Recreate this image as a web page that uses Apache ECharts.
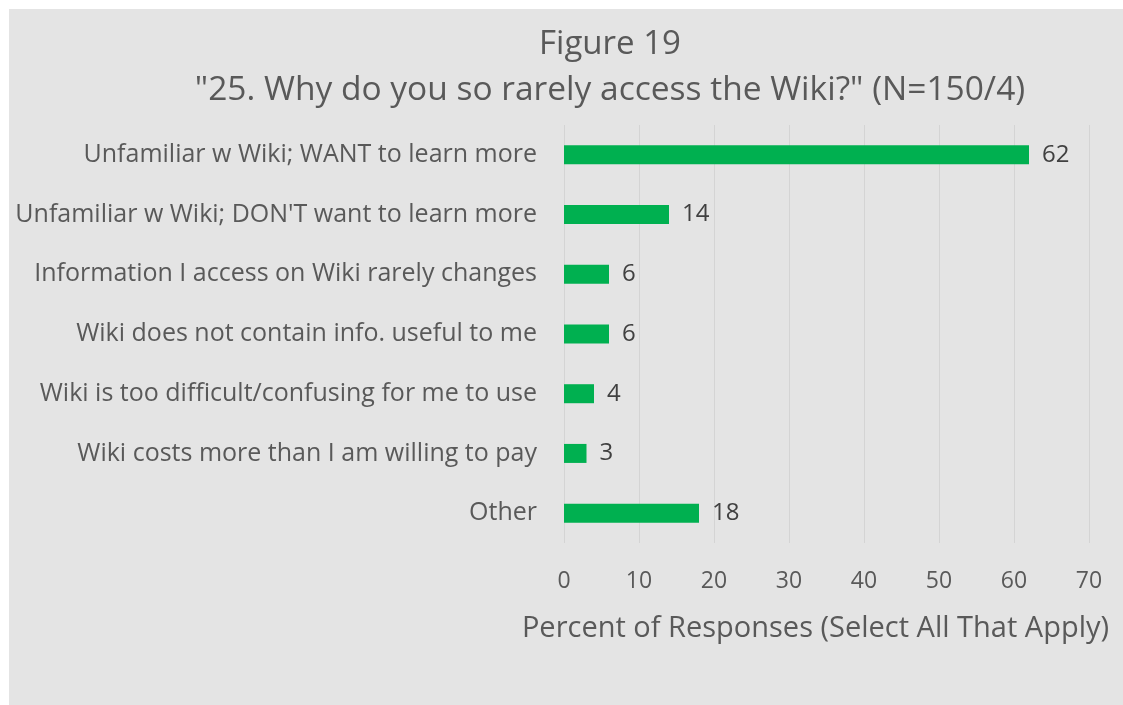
<!DOCTYPE html>
<html>
<head>
<meta charset="utf-8">
<script src="https://cdn.jsdelivr.net/npm/echarts@6/dist/echarts.min.js"></script>
<style>
  html, body { margin: 0; padding: 0; background: #ffffff; }
  #chart { position: absolute; left: 9px; top: 9px; width: 1114px; height: 696px; }
</style>
</head>
<body>
<div id="chart"></div>
<script>
const categories = [
  "Unfamiliar w Wiki; WANT to learn more",
  "Unfamiliar w Wiki; DON'T want to learn more",
  "Information I access on Wiki rarely changes",
  "Wiki does not contain info. useful to me",
  "Wiki is too difficult/confusing for me to use",
  "Wiki costs more than I am willing to pay",
  "Other"
];
const percents = [62, 14, 6, 6, 4, 3, 18];
const titleLines = ["Figure 19", "\"25. Why do you so rarely access the Wiki?\" (N=150/4)"];
const axisName = "Percent of Responses (Select All That Apply)";

const font = "Open Sans";
const chart = echarts.init(document.getElementById("chart"));
chart.setOption({
  backgroundColor: "#e4e4e4",
  animation: false,
  title: [
    {
      text: titleLines[0],
      left: 601, top: 19, padding: 0, textAlign: "center",
      textStyle: { fontFamily: font, fontSize: 33, fontWeight: "normal", color: "#595959" }
    },
    {
      text: titleLines[1],
      left: 601, top: 64, padding: 0, textAlign: "center",
      textStyle: { fontFamily: font, fontSize: 33.5, fontWeight: "normal", color: "#595959" }
    }
  ],
  grid: { left: 555, right: 34, top: 116, height: 418, containLabel: false },
  xAxis: {
    type: "value",
    min: 0, max: 70, interval: 10,
    name: axisName,
    nameLocation: "middle",
    nameGap: 71,
    nameTextStyle: { fontFamily: font, fontSize: 29, color: "#595959", padding: [0, 22, 0, 0] },
    axisLine: { show: false },
    axisTick: { show: false },
    axisLabel: { margin: 27, fontFamily: font, fontSize: 23, color: "#595959" },
    splitLine: { show: true, lineStyle: { color: "#d4d4d4", width: 1 } }
  },
  yAxis: {
    type: "category",
    data: categories,
    inverse: true,
    axisLine: { show: false },
    axisTick: { show: false },
    axisLabel: { margin: 27, fontFamily: font, fontSize: 25, color: "#595959" }
  },
  series: [{
    type: "bar",
    data: percents,
    barWidth: 19,
    itemStyle: { color: "#00b050" },
    label: {
      show: true, position: "right", distance: 13,
      fontFamily: font, fontSize: 24, color: "#404040"
    }
  }]
});
</script>
</body>
</html>
